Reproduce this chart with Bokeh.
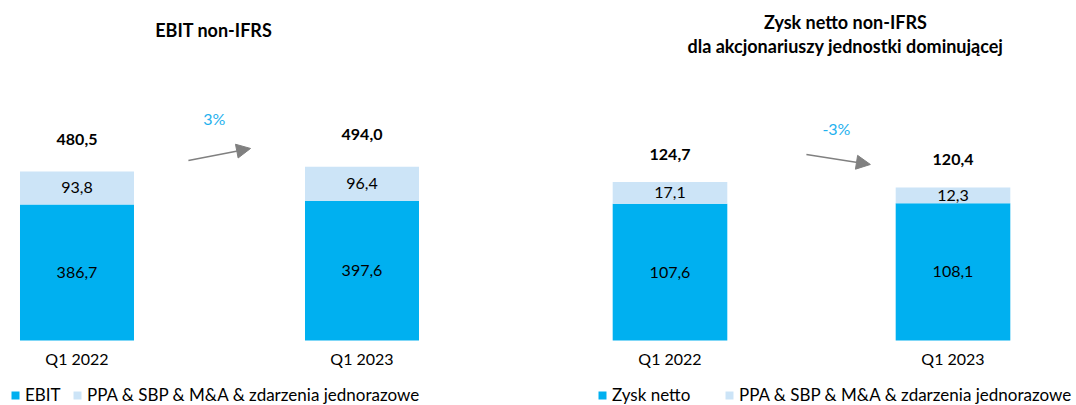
from bokeh.plotting import figure
from bokeh.layouts import row
from bokeh.models import Range1d, Label, Arrow, NormalHead, Legend, LegendItem, ColumnDataSource
from bokeh.embed import file_html
from bokeh.resources import INLINE

# ---- data ----
categories = ["Q1 2022", "Q1 2023"]
ebit = [386.7, 397.6]
ebit_adj = [93.8, 96.4]
net_profit = [107.6, 108.1]
net_adj = [17.1, 12.3]

title_left = "EBIT non-IFRS"
title_right = ["Zysk netto non-IFRS", "dla akcjonariuszy jednostki dominującej"]
legend_left = ["EBIT", "PPA & SBP & M&A & zdarzenia jednorazowe"]
legend_right = ["Zysk netto", "PPA & SBP & M&A & zdarzenia jednorazowe"]

# ---- style ----
DARK = "#00b0f0"
LIGHT = "#cce4f7"
PCT = "#1fb1ee"
GREY = "#808080"
FONT = "Lato"
FS = "16px"
H = 405


def fmt(v):
    return f"{v:.1f}".replace(".", ",")


def panel(width, x_range, y_range, bar_w, base, adj, total_off, titles, title_x, title_ys,
          pct_x, pct_y, arr, leg_labels, leg_xs):
    xs = list(range(len(categories)))
    tops = [round(b + a, 1) for b, a in zip(base, adj)]
    src = ColumnDataSource(dict(
        x=xs, cat=categories, base=base, top=tops,
        base_mid=[b / 2 for b in base],
        adj_mid=[(b + t) / 2 for b, t in zip(base, tops)],
        base_lbl=[fmt(v) for v in base],
        adj_lbl=[fmt(v) for v in adj],
        tot_lbl=[fmt(v) for v in tops],
        zero=[0] * len(xs),
    ))
    p = figure(width=width, height=H, x_range=x_range, y_range=y_range,
               output_backend="svg", toolbar_location=None,
               x_axis_location=None, y_axis_location=None, min_border=0)
    p.grid.visible = False
    p.outline_line_color = None
    p.background_fill_color = "white"
    p.border_fill_color = "white"

    r1 = p.vbar(x="x", width=bar_w, bottom=0, top="base", source=src,
                fill_color=DARK, line_color=None)
    r2 = p.vbar(x="x", width=bar_w, bottom="base", top="top", source=src,
                fill_color=LIGHT, line_color=None)

    common = dict(source=src, text_align="center", text_baseline="middle",
                  text_font=dict(value=FONT), text_font_size=FS, text_color="black")
    p.text(x="x", y="base_mid", text="base_lbl", **common)
    p.text(x="x", y="adj_mid", text="adj_lbl", **common)
    p.text(x="x", y="top", text="tot_lbl", y_offset=total_off, text_font_style="bold", **common)
    p.text(x="x", y="zero", text="cat", y_offset=18, **common)

    for t, ty in zip(titles, title_ys):
        p.add_layout(Label(x=title_x, y=ty, text=t, text_align="center", text_baseline="middle",
                           text_font=FONT, text_font_size="18px", text_font_style="bold",
                           text_color="black"))

    pct = (tops[1] / tops[0] - 1) * 100
    p.add_layout(Label(x=pct_x, y=pct_y, text=f"{round(pct):d}%", text_align="center",
                       text_baseline="middle", text_font=FONT, text_font_size=FS,
                       text_color=PCT))
    p.add_layout(Arrow(end=NormalHead(size=14, fill_color=GREY, line_color=GREY),
                       x_start=arr[0], y_start=arr[1], x_end=arr[2], y_end=arr[3],
                       line_color=GREY, line_width=1.5))

    for lbl, rr, lx in zip(leg_labels, [r1, r2], leg_xs):
        lg = Legend(items=[LegendItem(label=lbl, renderers=[rr])], location=(lx, 0),
                    orientation="horizontal", glyph_width=10, glyph_height=10,
                    label_standoff=5, padding=0, margin=0, border_line_color=None,
                    background_fill_alpha=0, label_text_font=FONT,
                    label_text_font_size="17px", label_text_color="black")
        p.add_layout(lg)
    return p


left = panel(560, Range1d(-0.2684, 1.6965), Range1d(-184.8, 966.7), 0.4,
             ebit, ebit_adj, -32, [title_left], 0.48, [881.5],
             0.482, 631, (0.391, 512, 0.609, 546), legend_left, [10, 72])

right = panel(516, Range1d(-0.3869, 1.4364), Range1d(-51.2, 267.7), 0.405,
              net_profit, net_adj, -28, title_right, 0.62, [250.4, 231.5],
              0.588, 167, (0.482, 146.5, 0.708, 138.6), legend_right, [37, 164])

layout = row(left, right, spacing=0)
open("out.html", "w").write(file_html(layout, INLINE))
